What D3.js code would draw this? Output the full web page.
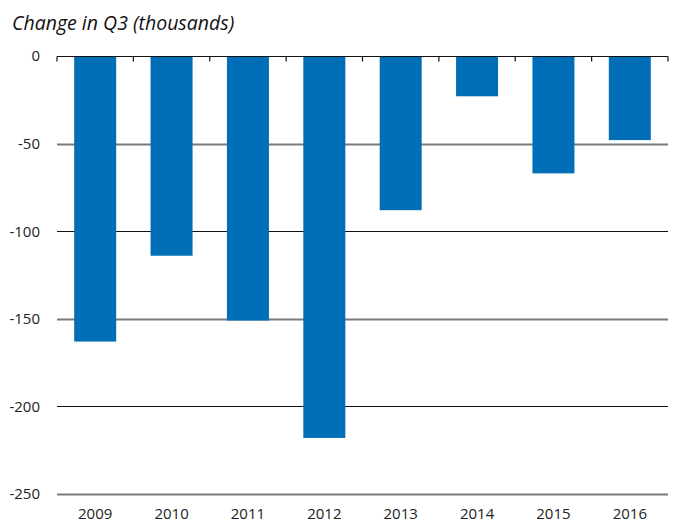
<!DOCTYPE html>
<html>
<head>
<meta charset="utf-8">
<script src="https://cdn.jsdelivr.net/npm/d3@7"></script>
<style>
  html, body { margin: 0; padding: 0; background: #fff; }
  svg { display: block; }
</style>
</head>
<body>
<svg id="chart" width="676" height="524"></svg>
<script>
const categories = ["2009", "2010", "2011", "2012", "2013", "2014", "2015", "2016"];
const values = [-163, -114, -151, -218, -88, -23, -67, -48];
const yTicks = [0, -50, -100, -150, -200, -250];
const subtitle = "Change in Q3 (thousands)";

(function () {
const svg = d3.select("#chart");
const plotLeft = 57, plotRight = 668, plotTop = 56, plotBottom = 494;

const x = d3.scaleBand().domain(categories).range([plotLeft, plotRight])
  .paddingInner(0.45).paddingOuter(0.225);
const y = d3.scaleLinear().domain([0, -250]).range([plotTop, plotBottom]);

const font = "'Open Sans', 'Noto Sans', sans-serif";

// subtitle
svg.append("text")
  .attr("x", 12).attr("y", 30)
  .attr("font-family", font).attr("font-style", "italic")
  .attr("font-size", 19.5).attr("fill", "#111")
  .text(subtitle);

// gridlines (excluding zero)
svg.append("g").selectAll("line")
  .data(yTicks.filter(d => d !== 0))
  .join("line")
  .attr("x1", plotLeft).attr("x2", plotRight)
  .attr("y1", d => Math.round(y(d)) + 0.5).attr("y2", d => Math.round(y(d)) + 0.5)
  .attr("stroke", (d, i) => i % 2 === 0 ? "#7a7a7a" : "#111")
  .attr("stroke-width", (d, i) => i % 2 === 0 ? 2 : 1.2);

// y labels
svg.append("g").selectAll("text")
  .data(yTicks)
  .join("text")
  .attr("x", 40).attr("y", d => y(d))
  .attr("dy", "0.36em")
  .attr("text-anchor", "end")
  .attr("font-family", font).attr("font-size", 15).attr("fill", "#222")
  .text(d => d);

// bars
svg.append("g").selectAll("rect")
  .data(values)
  .join("rect")
  .attr("x", (d, i) => x(categories[i]))
  .attr("width", x.bandwidth())
  .attr("y", d => y(Math.max(0, d)))
  .attr("height", d => Math.abs(y(d) - y(0)))
  .attr("fill", "#006fb8");

// zero axis with boundary ticks
const zeroY = Math.round(y(0)) + 0.5;
svg.append("line")
  .attr("x1", plotLeft).attr("x2", plotRight)
  .attr("y1", zeroY).attr("y2", zeroY)
  .attr("stroke", "#111").attr("stroke-width", 1.2);
svg.append("g").selectAll("line")
  .data(d3.range(categories.length + 1))
  .join("line")
  .attr("x1", i => plotLeft + i * x.step())
  .attr("x2", i => plotLeft + i * x.step())
  .attr("y1", zeroY).attr("y2", zeroY + 5)
  .attr("stroke", "#111").attr("stroke-width", 1.2);

// x labels
svg.append("g").selectAll("text")
  .data(categories)
  .join("text")
  .attr("x", d => x(d) + x.bandwidth() / 2)
  .attr("y", 519)
  .attr("text-anchor", "middle")
  .attr("font-family", font).attr("font-size", 15).attr("fill", "#222")
  .text(d => d);
})();
</script>
</body>
</html>
